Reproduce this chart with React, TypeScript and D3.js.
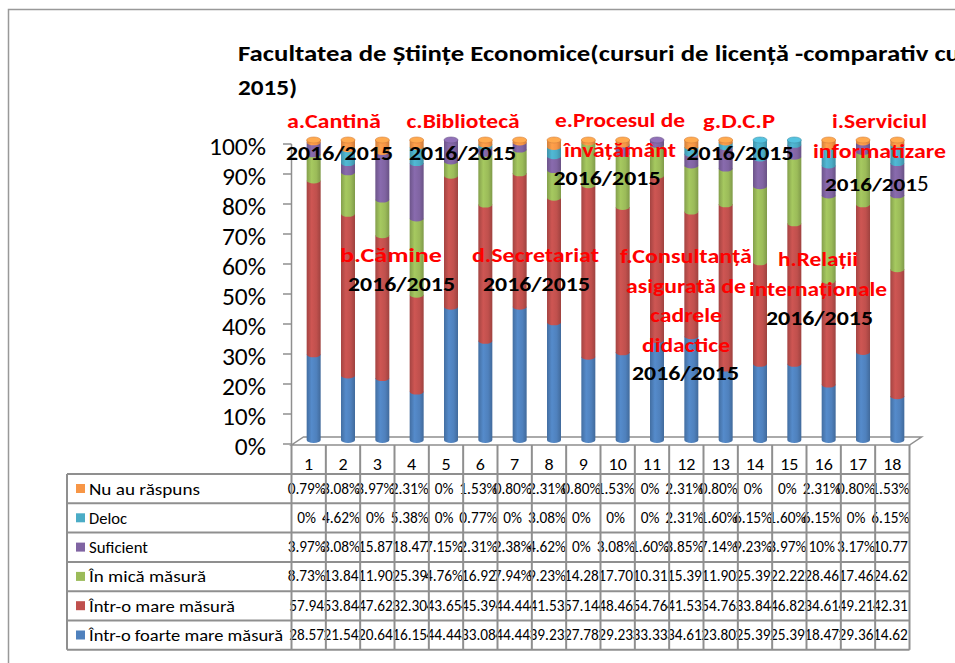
import React from 'react';
import * as d3 from 'd3';

// categories (columns 1..18 of the data table)
const categories = ['1', '2', '3', '4', '5', '6', '7', '8', '9', '10', '11', '12', '13', '14', '15', '16', '17', '18'];

// series, bottom of the stack first
const seriesNames = ['Într-o foarte mare măsură', 'Într-o mare măsură', 'În mică măsură', 'Suficient', 'Deloc', 'Nu au răspuns'];
const foarteMare = [28.57, 21.54, 20.64, 16.15, 44.44, 33.08, 44.44, 39.23, 27.78, 29.23, 33.33, 34.61, 23.80, 25.39, 25.39, 18.47, 29.36, 14.62];
const mare = [57.94, 53.84, 47.62, 32.30, 43.65, 45.39, 44.44, 41.53, 57.14, 48.46, 54.76, 41.53, 54.76, 33.84, 46.82, 34.61, 49.21, 42.31];
const mica = [8.73, 13.84, 11.90, 25.39, 4.76, 16.92, 7.94, 9.23, 14.28, 17.70, 10.31, 15.39, 11.90, 25.39, 22.22, 28.46, 17.46, 24.62];
const suficient = [3.97, 3.08, 15.87, 18.47, 7.15, 2.31, 2.38, 4.62, 0, 3.08, 1.60, 3.85, 7.14, 9.23, 3.97, 10, 3.17, 10.77];
const deloc = [0, 4.62, 0, 5.38, 0, 0.77, 0, 3.08, 0, 0, 0, 2.31, 1.60, 6.15, 1.60, 6.15, 0, 6.15];
const nuRaspuns = [0.79, 3.08, 3.97, 2.31, 0, 1.53, 0.80, 2.31, 0.80, 1.53, 0, 2.31, 0.80, 0, 0, 2.31, 0.80, 1.53];
const seriesValues = [foarteMare, mare, mica, suficient, deloc, nuRaspuns];
const seriesColors = ['#4F81BD', '#C0504D', '#9BBB59', '#8064A2', '#4BACC6', '#F79646'];

const yTicks = [0, 10, 20, 30, 40, 50, 60, 70, 80, 90, 100];
const titleLines = ['Facultatea de Științe Economice(cursuri de licență -comparativ cu', '2015)'];

// text boxes placed over the plot
const noteRed = [
  ['a.Cantină'], ['c.Bibliotecă'], ['e.Procesul de', 'învățământ'], ['g.D.C.P'], ['i.Serviciul', 'informatizare'],
  ['b.Cămine'], ['d.Secretariat'], ['f.Consultanță', 'asigurată de', 'cadrele', 'didactice'], ['h.Relații', 'internaționale'],
];
const noteYears = '2016/2015';

const font = 'Carlito, Lato, sans-serif';
const grid = '#8f8f8f';

// layout of the text boxes: centre x, first baseline, line widths
const noteLayout = [
  { cx: 334, y: 128, w: [94], yx: 339.5, yy: 160 },
  { cx: 463, y: 128, w: [113], yx: 462.5, yy: 160 },
  { cx: 620, y: 127, w: [130, 112], yx: 607, yy: 185 },
  { cx: 739, y: 128, w: [72], yx: 740, yy: 160 },
  { cx: 879.5, y: 128, w: [95, 133], yx: 878.5, yy: 191, last5: true },
  { cx: 391, y: 262, w: [102], yx: 401.5, yy: 291 },
  { cx: 535.5, y: 262, w: [127], yx: 536.5, yy: 291 },
  { cx: 686, y: 263, w: [132, 120, 72, 88], yx: 685.5, yy: 380 },
  { cx: 818, y: 266, w: [80, 138], yx: 819.5, yy: 325 },
];
const titleWidths = [722, 59];
const legendWidths = [194, 146, 117, 59, 38, 111];

// rough Calibri advance widths, used to stretch numeric labels like the original
function numWidth(s: string, fs: number) {
  let w = 0;
  for (const ch of s) w += ch === '.' ? 0.252 : ch === '%' ? 0.715 : ch === '/' ? 0.386 : 0.507;
  return w * fs;
}

function fmt(v: number) {
  if (v === Math.round(v)) return v + '%';
  return v >= 10 ? v.toFixed(2) : v.toFixed(2) + '%';
}

export default function App() {
  const width = 955, height = 663;
  const x = d3.scaleBand<string>().domain(categories).range([291.5, 909.5]);
  const barY = d3.scaleLinear().domain([0, 100]).range([440, 140]);
  const tickY = d3.scaleLinear().domain([0, 100]).range([444, 144]);
  const bw = 14, shift = 5, ry = 3;

  const keys = seriesNames.map((_, i) => 's' + i);
  const rows = categories.map((c, j) => {
    const r: any = { cat: c };
    keys.forEach((k, i) => (r[k] = seriesValues[i][j]));
    return r;
  });
  const stacked = d3.stack<any>().keys(keys)(rows);

  // cylinder segment: flat top (hidden by the next one), elliptic bottom
  const segPath = (cx: number, y0: number, y1: number) =>
    `M${cx - bw / 2},${y1}L${cx - bw / 2},${y0}A${bw / 2},${ry} 0 0 0 ${cx + bw / 2},${y0}L${cx + bw / 2},${y1}Z`;

  const tableLeft = 67, rowTop = 474, rowH = 29.3;
  const tableRows = seriesNames.map((n, i) => i).reverse();
  const tableRight = x.range()[1];

  return (
    <svg width={width} height={height} style={{ position: 'absolute', left: 0, top: 0, background: '#fff' }}
      fontFamily={font}>
      <defs>
        {seriesColors.map((c, i) => (
          <linearGradient key={i} id={'g' + i} x1="0" x2="1" y1="0" y2="0">
            <stop offset="0" stopColor={d3.color(c)!.darker(0.45).formatHex()} />
            <stop offset="0.35" stopColor={d3.color(c)!.brighter(0.2).formatHex()} />
            <stop offset="0.7" stopColor={c} />
            <stop offset="1" stopColor={d3.color(c)!.darker(0.55).formatHex()} />
          </linearGradient>
        ))}
      </defs>
      {/* outer frame */}
      <path d="M8.5,663V9.5H955" fill="none" stroke="#999" strokeWidth={1.5} />

      {/* title */}
      {titleLines.map((t, i) => (
        <text key={i} x={238} y={61 + i * 34} fontSize={22} fontWeight="bold" fill="#000"
          textLength={titleWidths[i]} lengthAdjust="spacingAndGlyphs">{t}</text>
      ))}

      {/* floor and value axis */}
      <path d={`M291.5,445H${tableRight}L${tableRight + 12},437H303.5Z`} fill="none" stroke={grid} strokeWidth={1.5} />
      <line x1={291.5} x2={291.5} y1={tickY(100)} y2={445} stroke={grid} strokeWidth={1.5} />
      {yTicks.map(t => (
        <g key={t}>
          <line x1={283} x2={291.5} y1={tickY(t)} y2={tickY(t)} stroke={grid} strokeWidth={1.5} />
          <text x={266} y={tickY(t) + 10.5} fontSize={23.5} textAnchor="end" fill="#000"
            textLength={numWidth(t + '%', 25.5)} lengthAdjust="spacingAndGlyphs">{t}%</text>
        </g>
      ))}

      {/* cylinders */}
      {stacked.map((s, i) => (
        <g key={s.key}>
          {s.map((d, j) => {
            if (d[1] - d[0] <= 0) return null;
            const cx = x(categories[j])! + x.bandwidth() / 2 + shift;
            return <path key={j} d={segPath(cx, barY(d[0]), barY(d[1]))} fill={`url(#g${i})`} />;
          })}
        </g>
      ))}
      {categories.map((c, j) => {
        let top = 0;
        seriesValues.forEach((v, i) => { if (v[j] > 0) top = i; });
        const col = d3.color(seriesColors[top])!;
        const cx = x(c)! + x.bandwidth() / 2 + shift;
        return <ellipse key={c} cx={cx} cy={barY(100)} rx={bw / 2} ry={ry}
          fill={col.brighter(0.35).formatHex()} stroke={col.darker(0.4).formatHex()} strokeWidth={0.6} />;
      })}

      {/* text boxes */}
      {noteRed.map((lines, k) => {
        const L = noteLayout[k];
        return (
          <g key={k}>
            {lines.map((t, li) => (
              <text key={li} x={L.cx} y={L.y + li * 29.5} textAnchor="middle" fontSize={20} fontWeight="bold"
                fill="#FF0000" textLength={L.w[li]} lengthAdjust="spacingAndGlyphs">{t}</text>
            ))}
            {L.last5 ? (
              <text x={L.yx - 53.5} y={L.yy} fontSize={19} fill="#000">
                <tspan fontWeight="bold" textLength={92} lengthAdjust="spacingAndGlyphs">{noteYears.slice(0, -1)}</tspan>
                <tspan fontSize={23}>{noteYears.slice(-1)}</tspan>
              </text>
            ) : (
              <text x={L.yx} y={L.yy} textAnchor="middle" fontSize={19.5} fontWeight="bold" fill="#000"
                textLength={107} lengthAdjust="spacingAndGlyphs">{noteYears}</text>
            )}
          </g>
        );
      })}

      {/* data table */}
      {categories.map(c => (
        <text key={c} x={x(c)! + x.bandwidth() / 2} y={470} textAnchor="middle" fontSize={16.5} fill="#000"
          textLength={numWidth(c, 18)} lengthAdjust="spacingAndGlyphs">{c}</text>
      ))}
      {tableRows.map((si, r) => {
        const yTop = rowTop + r * rowH;
        return (
          <g key={si}>
            <rect x={76} y={yTop + 10} width={9} height={9} fill={seriesColors[si]} />
            <text x={89} y={yTop + 20.5} fontSize={17} fill="#000"
              textLength={legendWidths[si]} lengthAdjust="spacingAndGlyphs">{seriesNames[si]}</text>
            {categories.map((c, j) => {
              const s = fmt(seriesValues[si][j]);
              return (
                <text key={c} x={x(c)! + x.bandwidth() / 2 - 2} y={yTop + 19.5} textAnchor="middle" fontSize={15.5}
                  fill="#000" textLength={numWidth(s, 15.3)} lengthAdjust="spacingAndGlyphs">{s}</text>
              );
            })}
          </g>
        );
      })}
      {/* table grid on top of the texts */}
      {d3.range(tableRows.length + 1).map(r => (
        <line key={'h' + r} x1={tableLeft} x2={tableRight} y1={rowTop + r * rowH} y2={rowTop + r * rowH}
          stroke={grid} strokeWidth={2} />
      ))}
      <line x1={tableLeft} x2={tableLeft} y1={rowTop} y2={rowTop + 6 * rowH} stroke={grid} strokeWidth={2} />
      {categories.concat(['end']).map((c, j) => {
        const xx = j < categories.length ? x(c)! : tableRight;
        return <line key={'v' + j} x1={xx} x2={xx} y1={445} y2={rowTop + 6 * rowH} stroke={grid} strokeWidth={2} />;
      })}
    </svg>
  );
}
